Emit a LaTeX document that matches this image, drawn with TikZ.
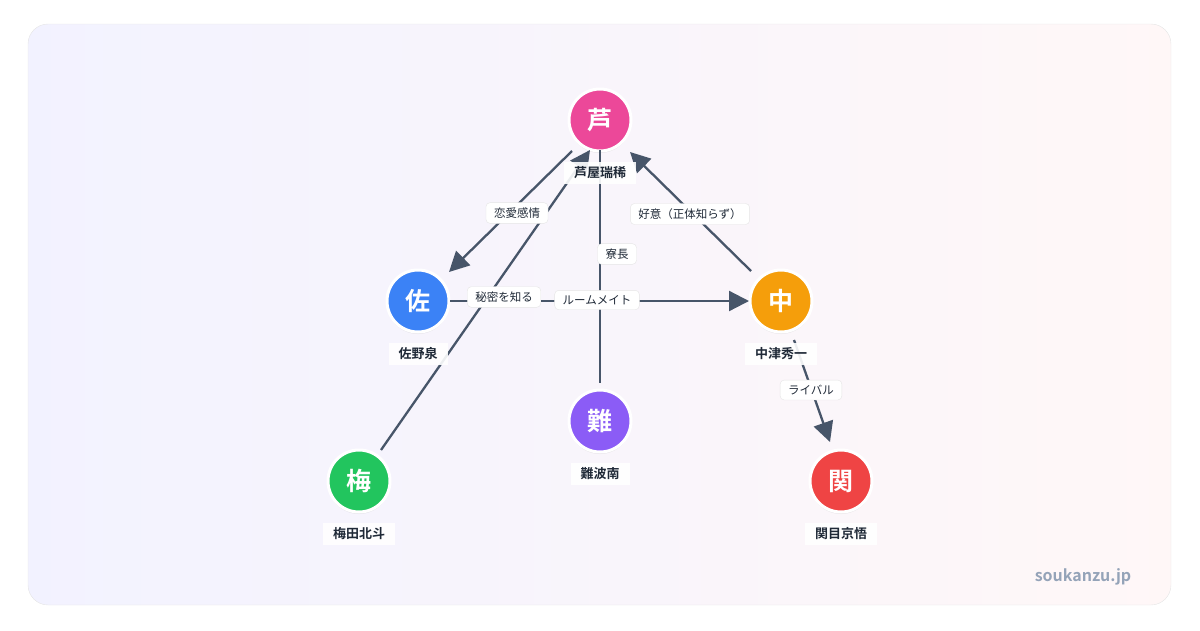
\documentclass[tikz,border=0pt]{standalone}
\usepackage{fontspec}
\setmainfont{Noto Sans CJK JP}[BoldFont={Noto Sans CJK JP Bold}]
\usetikzlibrary{arrows.meta,shadows}
\definecolor{edge}{HTML}{475569}
\definecolor{txt}{HTML}{1F2937}
\definecolor{wmc}{HTML}{94A3B8}
\definecolor{cpink}{HTML}{EC4899}
\definecolor{cblue}{HTML}{3B82F6}
\definecolor{corange}{HTML}{F59E0B}
\definecolor{cpurple}{HTML}{8B5CF6}
\definecolor{cgreen}{HTML}{22C55E}
\definecolor{cred}{HTML}{EF4444}
\begin{document}
\begin{tikzpicture}[x=1pt,y=-1pt,
  person/.style={circle,minimum size=62pt,draw=white,line width=3pt,text=white,font=\bfseries\fontsize{25}{25}\selectfont,drop shadow={shadow xshift=0pt,shadow yshift=-2pt,opacity=0.15}},
  pname/.style={fill=white,fill opacity=0.9,text opacity=1,text=txt,font=\bfseries\fontsize{13}{15}\selectfont,inner xsep=10pt,inner ysep=5pt},
  rel/.style={draw=edge,line width=2.3pt,-{Triangle[length=20pt,width=20pt]}},
  link/.style={draw=edge,line width=2.3pt},
  lab/.style={fill=white,draw=gray!20,rounded corners=4pt,text=txt,font=\fontsize{11.5}{13}\selectfont,inner xsep=8pt,inner ysep=5pt}]
\useasboundingbox (0,0) rectangle (1200,630);
\shade[left color=blue!5,right color=red!3,draw=gray!20,rounded corners=20pt] (28,24) rectangle (1171,605);
\node[person,fill=cpink] (A) at (600,120) {芦};
\node[person,fill=cblue] (S) at (418,301) {佐};
\node[person,fill=corange] (N) at (781,301) {中};
\node[person,fill=cpurple] (B) at (600,421) {難};
\node[person,fill=cgreen] (U) at (359,481) {梅};
\node[person,fill=cred] (K) at (841,481) {関};
\coordinate (a1) at (572,151); \coordinate (s1) at (449,272);
\coordinate (u1) at (381,450); \coordinate (a2) at (590,150);
\coordinate (s2) at (450,301); \coordinate (n1) at (749,301);
\coordinate (a3) at (600,150); \coordinate (b1) at (600,383);
\coordinate (n2) at (751,271); \coordinate (a4) at (630,152);
\coordinate (n3) at (794,340); \coordinate (k1) at (830,442);
\draw[link] (a3) -- (b1);
\draw[rel] (a1) -- (s1);
\draw[rel] (u1) -- (a2);
\draw[rel] (s2) -- (n1);
\draw[rel] (n2) -- (a4);
\draw[rel] (n3) -- (k1);
\node[lab] (l1) at (517,213) {恋愛感情};
\node[lab] (l2) at (504,297) {秘密を知る};
\node[lab] (l3) at (597,300) {ルームメイト};
\node[lab] (l4) at (617,254) {寮長};
\node[lab] (l5) at (690,214) {好意（正体知らず）};
\node[lab] (l6) at (811,390) {ライバル};
\node[pname] (nA) at (600,173) {芦屋瑞稀};
\node[pname] (nS) at (418,354) {佐野泉};
\node[pname] (nN) at (781,354) {中津秀一};
\node[pname] (nB) at (600,474) {難波南};
\node[pname] (nU) at (359,534) {梅田北斗};
\node[pname] (nK) at (841,534) {関目京悟};
\node[text=wmc,font=\bfseries\fontsize{16}{18}\selectfont] (wm) at (1083,577) {soukanzu.jp};
\end{tikzpicture}
\end{document}
